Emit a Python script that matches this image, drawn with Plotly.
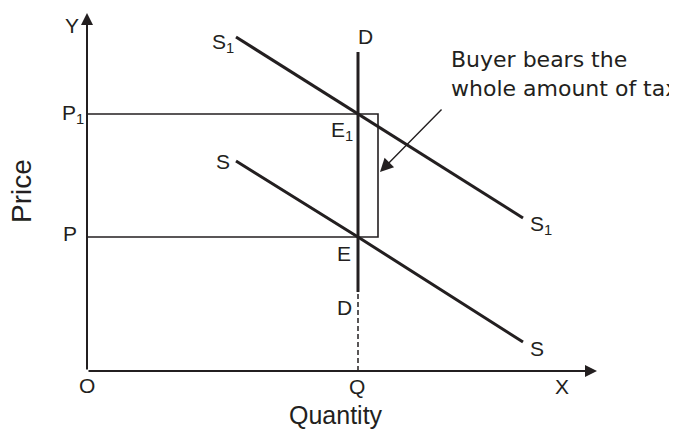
"""Tax incidence diagram: perfectly inelastic demand, buyer bears the whole tax."""

import plotly.graph_objects as go

INK = "#231f20"
FONT = "DejaVu Sans"
LABEL_FONT = "Liberation Sans"

# Diagram values (drawing units, origin at O)
Q = 271
P = 134
P1 = 257
S_X = [149, 271, 436]
S_Y = [210, 134, 29]
S1_X = [149, 271, 436]
S1_Y = [334, 257, 153]
D_TOP = 319
D_BOTTOM = 79
TAX_BOX_RIGHT = 291
X_END = 510
Y_END = 358
POINTER_FROM = (356, 263)
POINTER_TO = (293, 199)

fig = go.Figure()


def add_line(x, y, width, dash=None):
    fig.add_trace(
        go.Scatter(
            x=x,
            y=y,
            mode="lines",
            line={"color": INK, "width": width, "dash": dash},
            hoverinfo="skip",
            showlegend=False,
        )
    )


# supply curves and demand
add_line(S1_X, S1_Y, 3)
add_line(S_X, S_Y, 3)
add_line([Q, Q], [D_BOTTOM, D_TOP], 3)
add_line([Q, Q], [0, D_BOTTOM], 1.5, dash="5px,3px")

# price lines and the tax box
add_line([0, TAX_BOX_RIGHT, TAX_BOX_RIGHT, 0], [P1, P1, P, P], 1.6)

# axes with arrow heads
for tip, tail in (((0, Y_END), (0, 0)), ((X_END, 0), (0, 0))):
    fig.add_annotation(
        x=tip[0], y=tip[1], ax=tail[0], ay=tail[1],
        xref="x", yref="y", axref="x", ayref="y",
        text="", showarrow=True, arrowhead=2, arrowsize=1.2,
        arrowwidth=2, arrowcolor=INK,
    )

# pointer to the tax box
fig.add_annotation(
    x=POINTER_TO[0], y=POINTER_TO[1], ax=POINTER_FROM[0], ay=POINTER_FROM[1],
    xref="x", yref="y", axref="x", ayref="y",
    text="", showarrow=True, arrowhead=2, arrowsize=1.9,
    arrowwidth=1.4, arrowcolor=INK,
)

labels = [
    ("S<sub>1</sub>", S1_X[0], S1_Y[0], -13, -6),
    ("S", S_X[0], S_Y[0], -13, 0),
    ("S<sub>1</sub>", S1_X[-1], S1_Y[-1], 18, -7),
    ("S", S_X[-1], S_Y[-1], 14, -6),
    ("D", Q, D_TOP, 7, 16),
    ("D", Q, D_BOTTOM, -14, -15),
    ("E<sub>1</sub>", Q, P1, -16, -17),
    ("E", Q, P, -14, -16),
    ("P<sub>1</sub>", 0, P1, -14, 0),
    ("P", 0, P, -17, 4),
    ("O", 0, 0, 0, -14),
    ("Q", Q, 0, -1, -15),
    ("X", X_END, 0, -35, -15),
    ("Y", 0, Y_END, -15, -12),
]
for text, x, y, dx, dy in labels:
    fig.add_annotation(
        x=x, y=y, text=text, showarrow=False, xshift=dx, yshift=dy,
        font={"family": LABEL_FONT, "size": 21, "color": INK},
    )

fig.add_annotation(
    x=-66, y=180, text="Price", textangle=-90, showarrow=False,
    font={"family": LABEL_FONT, "size": 28, "color": INK},
)
fig.add_annotation(
    x=249, y=-44, text="Quantity", showarrow=False,
    font={"family": LABEL_FONT, "size": 25, "color": INK},
)
fig.add_annotation(
    x=362, y=297, text="Buyer bears the<br>whole amount of tax", showarrow=False,
    xanchor="left", align="left",
    font={"family": FONT, "size": 22, "color": INK},
)

# the page body keeps an 8px margin, so the figure is 8px smaller and the ranges shift
fig.update_layout(
    width=669,
    height=422,
    margin={"l": 0, "r": 0, "t": 0, "b": 0},
    paper_bgcolor="white",
    plot_bgcolor="white",
    xaxis={"range": [-79, 590], "visible": False, "fixedrange": True},
    yaxis={"range": [-59, 363], "visible": False, "fixedrange": True},
)

fig.write_html("out.html")
